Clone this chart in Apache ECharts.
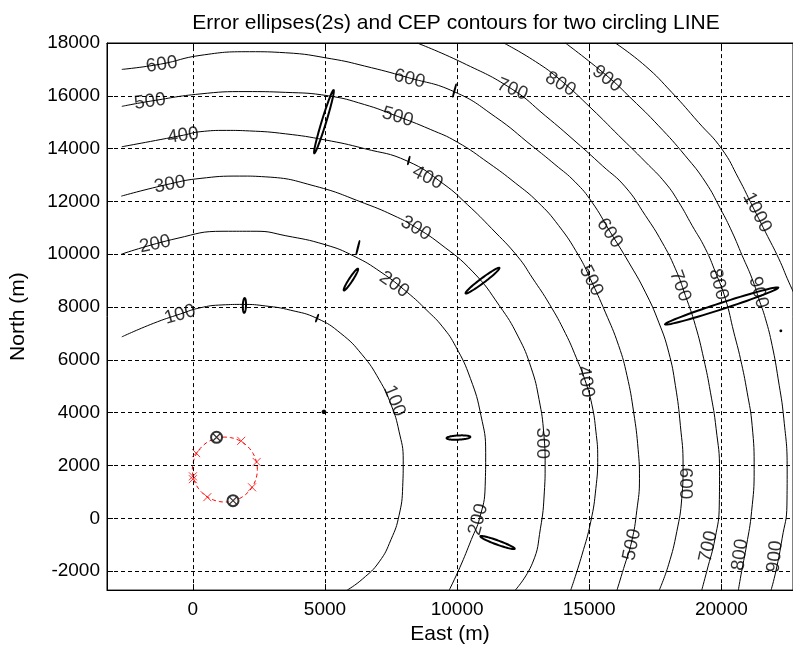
<!DOCTYPE html>
<html>
<head>
<meta charset="utf-8">
<script src="https://cdn.jsdelivr.net/npm/echarts@6/dist/echarts.min.js"></script>
<style>html,body{margin:0;padding:0;background:#fff}#c{width:793px;height:650px}</style>
</head>
<body>
<div id="c"></div>
<script>
// ---- data ----
const titleText = 'Error ellipses(2s) and CEP contours for two circling LINE';
const xTicks = [0, 5000, 10000, 15000, 20000];
const yTicks = [-2000, 0, 2000, 4000, 6000, 8000, 10000, 12000, 14000, 16000, 18000];
const xRange = [-3250, 22710];
const yRange = [-2720, 18000];

const c100 = [[-2690,6870],[-1500,7380],[-470,7740],[270,7970],[1100,8080],[1900,8100],[2760,8040],[3700,7880],[4700,7570],[5600,7000],[6400,6200],[7050,5250],[7500,4300],[7800,3300],[7960,2200],[7940,1200],[7800,100],[7500,-800],[7050,-1650],[6420,-2300],[5840,-2720]];
const c200 = [[-2710,10000],[-600,10600],[1140,10870],[2390,10870],[3520,10700],[5010,10360],[6090,9930],[7120,9320],[8120,8550],[8860,7870],[9450,7250],[9950,6500],[10500,5300],[10900,3900],[11080,2500],[11060,1200],[10850,0],[10540,-800],[10100,-1870],[9700,-2720]];
const c300 = [[-2710,12200],[-850,12670],[270,12870],[1770,12960],[2760,12930],[4634,12577],[6490,11930],[7740,11400],[8391,11042],[9350,10400],[10600,9330],[11600,8050],[12300,6900],[12800,5700],[13100,4500],[13280,3200],[13330,2000],[13300,1000],[13150,-400],[12850,-1700],[12200,-2720]];
const c400 = [[-2690,14070],[-350,14510],[270,14640],[1270,14690],[2140,14670],[3510,14560],[5000,14330],[6490,14000],[8110,13530],[9500,12650],[10400,11870],[11300,10980],[12300,9900],[12850,9100],[13500,8100],[14100,7000],[14500,6100],[14850,5200],[15100,4300],[15250,3300],[15320,2300],[15250,1130],[15060,-110],[14720,-1400],[14300,-2720]];
const c500 = [[-2690,15600],[-1590,15800],[270,16070],[2010,16160],[3510,16130],[5120,16000],[6490,15670],[7670,15250],[8980,14730],[10000,14250],[11200,13450],[12200,12700],[13050,11980],[13838,11091],[14596,9954],[15038,9070],[15606,7807],[16111,6544],[16427,5407],[16680,4018],[16850,2600],[16900,1500],[16800,300],[16600,-900],[16300,-1900],[16050,-2720]];
const c600 = [[-2690,17000],[-1220,17200],[270,17530],[2140,17670],[3510,17630],[5250,17400],[6490,17130],[8110,16700],[9900,16150],[11450,15200],[12840,14100],[13700,13400],[14470,12733],[15101,11975],[15796,10838],[16490,9701],[17122,8565],[17627,7428],[18006,6291],[18259,5028],[18448,3513],[18550,2000],[18500,750],[18313,-502],[18000,-1762],[17650,-2720]];
const c700 = [[8484,18000],[10189,17260],[12079,16252],[13339,15244],[14500,14250],[15500,13350],[16364,12550],[17122,11470],[17753,10459],[18259,9449],[18637,8438],[19016,7302],[19332,6039],[19585,4776],[19800,3400],[19930,1800],[19920,500],[19762,-755],[19445,-2012],[19257,-2720]];
const c800 = [[11764,18000],[12961,17300],[13906,16600],[15103,15500],[16111,14500],[17122,13500],[17880,12700],[18385,11975],[18890,11091],[19395,10207],[19774,9323],[20153,8312],[20469,7049],[20722,6039],[20974,4776],[21164,3513],[21240,1850],[21143,252],[20955,-1006],[20766,-2012],[20642,-2720]];
const c900 = [[14095,18000],[15670,16756],[16615,15874],[17623,14866],[18631,13732],[19396,12733],[19964,11722],[20406,10838],[20785,9954],[21164,9070],[21416,8312],[21669,7554],[21921,6544],[22148,5281],[22363,3765],[22489,1871],[22480,502],[22300,-755],[22060,-2012],[21880,-2720]];
const c1000 = [[15985,18000],[17119,17134],[18127,16126],[19135,14992],[20017,13984],[20658,12859],[21164,11848],[21669,10838],[22174,9828],[22553,8944],[22900,8200]];
const contourLevels = [c100, c200, c300, c400, c500, c600, c700, c800, c900, c1000];

// contour labels: [x, y, text, rotation deg]
const contourLabels = [
  [-1180,17180,'600',8],[-1620,15780,'500',8],[-370,14490,'400',8],[-870,12640,'300',10],[-1430,10380,'200',12],[-490,7710,'100',16],
  [8190,16640,'600',-14],[7750,15200,'500',-16],[8880,12900,'400',-27],[8440,10980,'300',-30],[7620,8850,'200',-35],[7620,4450,'100',-68],
  [12090,16240,'700',-22],[13910,16440,'800',-30],[15670,16640,'900',-38],[21350,11580,'1000',-63],
  [15770,10800,'600',-55],[15070,9000,'500',-63],[18440,8800,'700',-70],[19890,8860,'800',-75],[21400,8550,'900',-75],
  [14860,5170,'400',-80],[13220,2840,'300',-90],[10800,-50,'200',75],[16620,-1000,'500',78],[18630,1320,'600',-90],
  [19510,-1070,'700',78],[20710,-1380,'800',82],[22030,-1450,'900',84]
];

// error ellipses: [cx, cy, semi-major, semi-minor, angle deg]
const ellipses = [
  [4960,15020,1250,85,73],[5980,9040,490,70,57],[10960,9000,800,90,37],[10050,3057,450,80,3],
  [11530,-920,690,80,-20],[20010,8040,2250,120,18],[1950,8060,280,60,88]
];
const smallMarks = [
  [6245,10250,260,12,76],[4700,7580,140,10,70],[8170,13550,150,10,76],[9900,16200,240,10,75],
  [4960,4030,60,55,0],[22250,7100,25,25,0]
];
// circling path (centre x, centre y, radius)
const circlePath = [[1210,1845,1230,1230,0]];
const pathMarks = [[124,2467],[0,1590],[0,1480],[547,800],[1829,2933],[2413,2133],[2239,1173]];
const stations = [[896,3067],[1518,667]];

// ---- chart ----
const font = 'Liberation Sans, Arial, sans-serif';
function ellipseItem(lw, fill, dash, color) {
  return function (params, api) {
    const cx = api.value(0), cy = api.value(1), a = api.value(2), b = api.value(3);
    const th = api.value(4) * Math.PI / 180;
    const pts = [];
    for (let i = 0; i <= 72; i++) {
      const t = i / 72 * 2 * Math.PI;
      const x = cx + a * Math.cos(t) * Math.cos(th) - b * Math.sin(t) * Math.sin(th);
      const y = cy + a * Math.cos(t) * Math.sin(th) + b * Math.sin(t) * Math.cos(th);
      pts.push(api.coord([x, y]));
    }
    return { type: 'polygon', shape: { points: pts },
      style: { fill: fill, stroke: color, lineWidth: lw, lineDash: dash } };
  };
}

const series = [];
contourLevels.forEach((d, i) => {
  const s = { type: 'line', data: d, smooth: 0.5, showSymbol: false, symbol: 'none', silent: true,
    lineStyle: { color: '#000', width: 1 }, clip: true, z: 2 };
  if (i === 0) {
    s.markLine = { silent: true, symbol: 'none', label: { show: false },
      lineStyle: { color: '#000', width: 1, type: [4, 3] },
      data: xTicks.map(v => ({ xAxis: v })).concat(yTicks.filter(v => v < 18000).map(v => ({ yAxis: v }))) };
  }
  series.push(s);
});
series.push({ type: 'scatter', symbolSize: 0, silent: true, z: 5,
  data: contourLabels.map(l => ({ value: [l[0], l[1]], name: l[2],
    label: { show: true, position: 'inside', formatter: l[2], rotate: l[3], color: '#000',
      fontFamily: font, fontSize: 19 } })) });
series.push({ type: 'custom', renderItem: ellipseItem(2, 'none', null, '#000'), data: ellipses,
  encode: { x: 0, y: 1 }, clip: true, silent: true, z: 4 });
series.push({ type: 'custom', renderItem: ellipseItem(1.5, '#000', null, '#000'), data: smallMarks,
  encode: { x: 0, y: 1 }, clip: true, silent: true, z: 4 });
series.push({ type: 'custom', renderItem: ellipseItem(1, 'none', [4, 3], '#ff0000'), data: circlePath,
  encode: { x: 0, y: 1 }, clip: true, silent: true, z: 4 });
series.push({ type: 'scatter', data: pathMarks, symbol: 'path://M0,0L10,10M10,0L0,10', symbolSize: 8,
  itemStyle: { color: 'transparent', borderColor: '#ff0000', borderWidth: 1 }, silent: true, z: 6 });
series.push({ type: 'scatter', data: stations, symbol: 'emptyCircle', symbolSize: 11,
  itemStyle: { color: '#000', borderColor: '#000', borderWidth: 1.2 }, silent: true, z: 7 });
series.push({ type: 'scatter', data: stations, symbol: 'path://M0,0L10,10M10,0L0,10', symbolSize: 7,
  itemStyle: { color: 'transparent', borderColor: '#000', borderWidth: 1.2 }, silent: true, z: 7 });

const tickStyle = { color: '#000', fontFamily: font, fontSize: 19 };
const nameStyle = { color: '#000', fontFamily: font, fontSize: 21 };
const fmt = v => String(v);
const option = {
  animation: false,
  backgroundColor: '#fff',
  title: { text: titleText, left: 451, top: 8, textAlign: 'center',
    textStyle: { color: '#000', fontFamily: font, fontSize: 21, fontWeight: 'normal' } },
  grid: { left: 107, top: 43, width: 688, height: 549, show: true, borderColor: '#000', borderWidth: 1 },
  xAxis: [
    { type: 'value', min: xRange[0], max: xRange[1], position: 'bottom',
      name: 'East (m)', nameLocation: 'middle', nameGap: 33, nameTextStyle: nameStyle,
      axisLine: { show: true, onZero: false, lineStyle: { color: '#000' } },
      axisTick: { show: true, inside: true, length: 6, customValues: xTicks, lineStyle: { color: '#000' } },
      axisLabel: { ...tickStyle, margin: 10, customValues: xTicks, formatter: fmt },
      splitLine: { show: false } },
    { type: 'value', min: xRange[0], max: xRange[1], position: 'top',
      axisLine: { show: true, onZero: false, lineStyle: { color: '#000' } },
      axisTick: { show: true, inside: true, length: 6, customValues: xTicks, lineStyle: { color: '#000' } },
      axisLabel: { show: false }, splitLine: { show: false } }
  ],
  yAxis: [
    { type: 'value', min: yRange[0], max: yRange[1],
      name: 'North (m)', nameLocation: 'middle', nameGap: 78, nameTextStyle: nameStyle,
      axisLine: { show: true, onZero: false, lineStyle: { color: '#000' } },
      axisTick: { show: true, inside: true, length: 6, customValues: yTicks, lineStyle: { color: '#000' } },
      axisLabel: { ...tickStyle, margin: 7, customValues: yTicks, formatter: fmt },
      splitLine: { show: false } }
  ],
  series: series
};
const chart = echarts.init(document.getElementById('c'), null, { renderer: 'canvas' });
chart.setOption(option);
</script>
</body>
</html>
